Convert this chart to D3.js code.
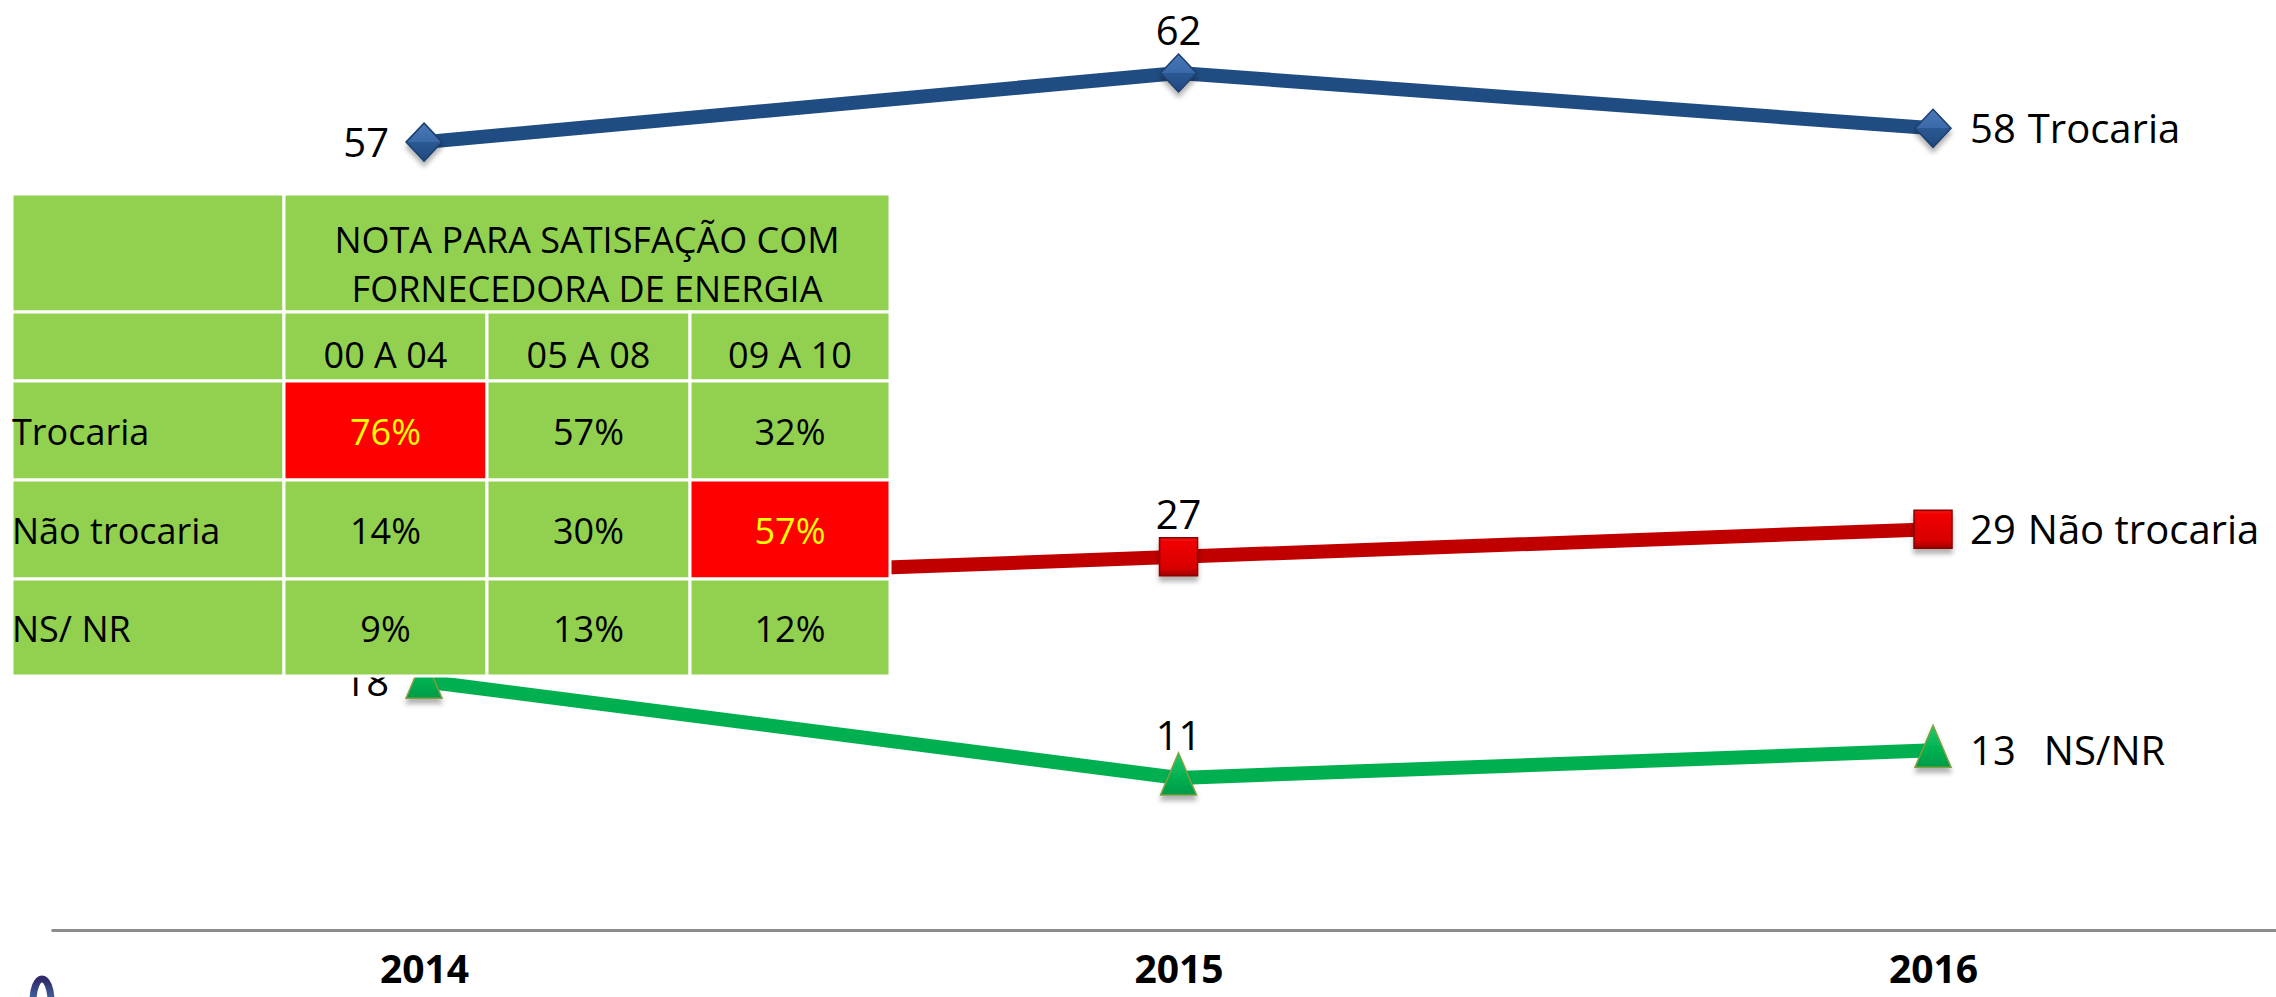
<!DOCTYPE html>
<html>
<head>
<meta charset="utf-8">
<script src="https://cdn.jsdelivr.net/npm/d3@7"></script>
<style>
  html, body { margin: 0; padding: 0; background: #fff; }
  svg { display: block; font-family: "Open Sans", "Noto Sans", sans-serif; }
</style>
</head>
<body>
<svg id="chart" width="2276" height="997"></svg>
<script>
// chart data
const years = ["2014", "2015", "2016"];
const trocaria = [57, 62, 58];
const naoTrocaria = [25, 27, 29];
const nsnr = [18, 11, 13];
const seriesNames = ["Trocaria", "Não trocaria", "NS/NR"];

// table data
const tableTitle = ["NOTA PARA SATISFAÇÃO COM", "FORNECEDORA DE ENERGIA"];
const scoreBands = ["00 A 04", "05 A 08", "09 A 10"];
const tableRows = ["Trocaria", "Não trocaria", "NS/ NR"];
const tableValues = [[76, 57, 32], [14, 30, 57], [9, 13, 12]];
const highlighted = [[0, 0], [1, 2]];

const svg = d3.select("#chart");

const x = d3.scalePoint().domain(years).range([51, 2276]).padding(0.4745).align(0.521);
const y = d3.scaleLinear().domain([0, 62]).range([930, 73]);

/**
 * gradients for the markers
 */
const defs = svg.append("defs");
function grad(id, stops) {
    const g = defs.append("linearGradient").attr("id", id)
        .attr("x1", 0).attr("y1", 0).attr("x2", 0).attr("y2", 1);
    stops.forEach(s => g.append("stop").attr("offset", s[0]).attr("stop-color", s[1]));
}
grad("gBlue", [[0, "#4a78b6"], [0.5, "#3a69a8"], [0.5, "#2b5893"], [1, "#214a80"]]);
grad("gRed", [[0, "#f01010"], [0.15, "#ee0000"], [0.8, "#d80000"], [1, "#a00000"]]);
grad("gGreen", [[0, "#20c86c"], [0.6, "#00b050"], [1, "#009a48"]]);
grad("gLogo", [[0, "#2e2a6b"], [1, "#5aa7d8"]]);
const f = defs.append("filter").attr("id", "shadow").attr("x", "-50%").attr("y", "-50%").attr("width", "200%").attr("height", "200%");
f.append("feDropShadow").attr("dx", 0).attr("dy", 5).attr("stdDeviation", 2.5).attr("flood-color", "#000").attr("flood-opacity", 0.3);

// axis
const xAxis = d3.axisBottom(x).tickSize(0).tickPadding(25);
const ax = svg.append("g").attr("class", "x axis")
    .attr("transform", "translate(0," + y(0) + ")")
    .call(xAxis);
ax.select(".domain").attr("stroke", "#8c8c8c").attr("stroke-width", 3);
ax.selectAll("text")
    .attr("font-family", "'Open Sans', sans-serif")
    .attr("font-size", 39).attr("font-weight", "bold").attr("fill", "#000");

// partial logo at the bottom left
svg.append("ellipse").attr("cx", 42).attr("cy", 1001).attr("rx", 9).attr("ry", 22)
    .attr("fill", "none").attr("stroke", "url(#gLogo)").attr("stroke-width", 7);

const series = [
    {name: seriesNames[0], values: trocaria, color: "#1f4c82", marker: "diamond", fill: "url(#gBlue)"},
    {name: seriesNames[1], values: naoTrocaria, color: "#c00000", marker: "square", fill: "url(#gRed)"},
    {name: seriesNames[2], values: nsnr, color: "#00b050", marker: "triangle", fill: "url(#gGreen)"}
];

const line = d3.line().x((d, i) => x(years[i])).y(d => y(d));

const markerPath = {
    diamond: "M0,-19L18,0L0,19L-18,0Z",
    square: "M-19,-19L19,-19L19,19L-19,19Z",
    triangle: "M0,-25L18,17L-18,17Z"
};
const markerStroke = {diamond: "#1c3f6e", square: "#8a0000", triangle: "#7f9f3f"};

series.forEach(s => {
    const g = svg.append("g").attr("class", "series");
    g.append("path")
        .datum(s.values)
        .attr("fill", "none")
        .attr("stroke", s.color)
        .attr("stroke-width", 14)
        .attr("stroke-linejoin", "round")
        .attr("d", line);
    g.selectAll(".mk").data(s.values).join("path")
        .attr("class", "mk")
        .attr("transform", (d, i) => "translate(" + x(years[i]) + "," + y(d) + ")")
        .attr("d", markerPath[s.marker])
        .attr("fill", s.fill)
        .attr("stroke", markerStroke[s.marker])
        .attr("stroke-width", 1.5)
        .attr("filter", "url(#shadow)");
    g.selectAll(".lbl").data(s.values).join("text")
        .attr("class", "lbl")
        .attr("font-size", 40)
        .attr("fill", "#000")
        .attr("dy", "0.36em")
        .each(function (d, i) {
            const t = d3.select(this);
            const px = x(years[i]), py = y(d);
            if (i === 0) {
                t.attr("x", px - 35).attr("y", py).attr("text-anchor", "end").text(d);
            } else if (i === 1) {
                t.attr("x", px).attr("y", py - 42).attr("text-anchor", "middle").text(d);
            } else {
                t.attr("x", px + 37).attr("y", py).attr("text-anchor", "start").text(d);
                t.append("tspan").attr("dx", s.name === "NS/NR" ? 28 : 12).text(s.name);
            }
        });
});

/**
 * table drawn over the chart
 */
const colEdges = [12, 284, 487, 690, 890];
const rowEdges = [194, 312, 381, 480, 579, 676];
const tbl = svg.append("g").attr("class", "table").attr("font-size", 36);
const cell = (c0, c1, r0, r1, fill) => tbl.append("rect")
    .attr("x", colEdges[c0]).attr("y", rowEdges[r0])
    .attr("width", colEdges[c1] - colEdges[c0]).attr("height", rowEdges[r1] - rowEdges[r0])
    .attr("fill", fill).attr("stroke", "#fff").attr("stroke-width", 3);

cell(0, 1, 0, 1, "#92d050");
cell(1, 4, 0, 1, "#92d050");
cell(0, 1, 1, 2, "#92d050");
scoreBands.forEach((b, j) => cell(j + 1, j + 2, 1, 2, "#92d050"));
tableRows.forEach((r, i) => {
    cell(0, 1, i + 2, i + 3, "#92d050");
    tableValues[i].forEach((v, j) => {
        const hot = highlighted.some(h => h[0] === i && h[1] === j);
        cell(j + 1, j + 2, i + 2, i + 3, hot ? "#ff0000" : "#92d050");
    });
});

const mid = (a, i) => (a[i] + a[i + 1]) / 2;
tableTitle.forEach((t, k) => tbl.append("text")
    .attr("x", (colEdges[1] + colEdges[4]) / 2).attr("y", 240 + k * 49)
    .attr("dy", "0.36em").attr("text-anchor", "middle").attr("fill", "#000").text(t));
scoreBands.forEach((b, j) => tbl.append("text")
    .attr("x", mid(colEdges, j + 1)).attr("y", 355)
    .attr("dy", "0.36em").attr("text-anchor", "middle").attr("fill", "#000").text(b));
tableRows.forEach((r, i) => {
    tbl.append("text").attr("x", colEdges[0]).attr("y", mid(rowEdges, i + 2) + 2)
        .attr("dy", "0.36em").attr("fill", "#000").text(r);
    tableValues[i].forEach((v, j) => {
        const hot = highlighted.some(h => h[0] === i && h[1] === j);
        tbl.append("text").attr("x", mid(colEdges, j + 1)).attr("y", mid(rowEdges, i + 2) + 2)
            .attr("dy", "0.36em").attr("text-anchor", "middle")
            .attr("fill", hot ? "#ffff00" : "#000").text(v + "%");
    });
});
</script>
</body>
</html>
